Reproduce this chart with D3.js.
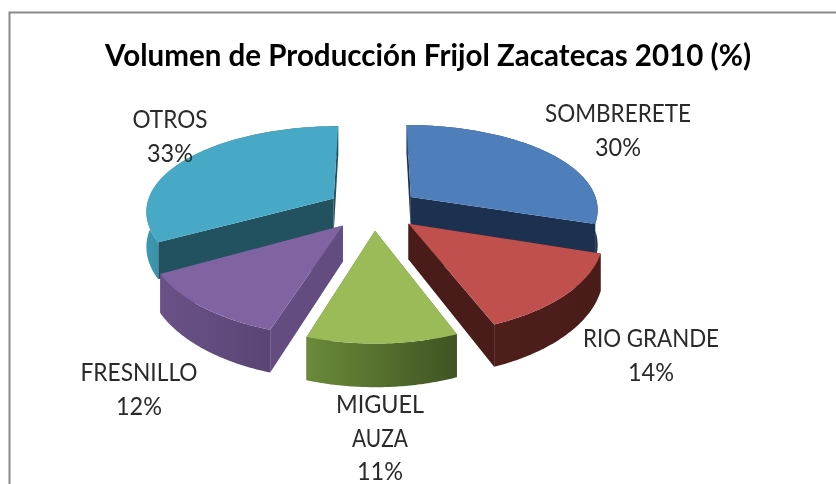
<!DOCTYPE html>
<html><head><meta charset="utf-8">
<script src="https://cdn.jsdelivr.net/npm/d3@7"></script>
<style>html,body{margin:0;padding:0;background:#fff}svg{display:block;filter:blur(0.5px)}text{font-family:Lato,"Open Sans",sans-serif;fill:#2a2a2a}</style>
</head><body><svg id="c" width="836" height="484"></svg>
<script>
const categories = ["SOMBRERETE","RIO GRANDE","MIGUEL AUZA","FRESNILLO","OTROS"];
const values = [30,14,11,12,33];
const topColors = ["#4F7FBB","#BF504D","#9ABB58","#8064A1","#47A9C5"];
const wallLight = ["#2A4A75","#4E1E1B","#6B8A3A","#6A5288","#3C97AF"];
const wallDark  = ["#1C3150","#4A1C19","#3F5422","#5A4474","#235664"];
const cutColors = ["#1C3150","#4A1C19","#5F7A33","#624C80","#225260"];
const labelLines = [["SOMBRERETE","30%"],["RIO GRANDE","14%"],["MIGUEL","AUZA","11%"],["FRESNILLO","12%"],["OTROS","33%"]];
const labelWidths = [[146,46],[136,46],[88,56,46],[117,46],[75,46]];
const labelPos = [[618,122],[651,347],[380,413],[139,381],[170,128]];
const drawOrder = [4,0,3,1,2];
const title = "Volumen de Producción Frijol Zacatecas 2010 (%)";

const svg = d3.select("#c");
const defs = svg.append("defs");
svg.append("path").attr("d","M9.5 484V12.5H836").attr("fill","none").attr("stroke","#8a8a8a").attr("stroke-width",2);
svg.append("text").attr("x",428).attr("y",66).attr("text-anchor","middle")
  .attr("font-size",31).attr("font-weight",700).style("fill","#000")
  .attr("textLength",646).attr("lengthAdjust","spacingAndGlyphs").text(title);

const cx=373.5, cy=209, Rx=188, K=87, P=0.16, Px=0.13, Ex=0.25, Ey=0.24, D=35;
const pie = d3.pie().sort(null).startAngle(0).endAngle(2*Math.PI)(values);
const line = d3.line();
function proj(X,Y,z){const s=1/(1+P*Y), sx=1/(1+Px*Y);return [cx+Rx*X*sx, cy-K*Y*s+z*D*s];}
pie.forEach((d,i)=>{d.mid=(d.startAngle+d.endAngle)/2;});
function pt(d,r,a,z){
  const X=Ex*Math.sin(d.mid)+r*Math.sin(a), Y=Ey*Math.cos(d.mid)+r*Math.cos(a);
  return proj(X,Y,z);
}
drawOrder.forEach(i=>{
  const d=pie[i], g=svg.append("g");
  const arc=d3.range(0,61).map(t=>d.startAngle+(d.endAngle-d.startAngle)*t/60);
  [d.startAngle,d.endAngle].forEach(a=>{
    g.append("path").attr("d",line([pt(d,0,0,0),pt(d,1,a,0),pt(d,1,a,1),pt(d,0,0,1)])+"Z").attr("fill",cutColors[i]);
  });
  const top=arc.map(a=>pt(d,1,a,0)), bot=arc.map(a=>pt(d,1,a,1)).reverse();
  const xs=top.map(p=>p[0]);
  const gid="w"+i;
  const lg=defs.append("linearGradient").attr("id",gid).attr("gradientUnits","userSpaceOnUse")
    .attr("x1",d3.min(xs)).attr("x2",d3.max(xs)).attr("y1",0).attr("y2",0);
  lg.append("stop").attr("offset",0).attr("stop-color",wallLight[i]);
  lg.append("stop").attr("offset",1).attr("stop-color",wallDark[i]);
  g.append("path").attr("d",line(top.concat(bot))+"Z").attr("fill",`url(#${gid})`);
  g.append("path").attr("d",line([pt(d,0,0,0)].concat(top))+"Z").attr("fill",topColors[i]);
});
labelLines.forEach((ls,i)=>{
  ls.forEach((s,j)=>svg.append("text").attr("text-anchor","middle").attr("font-size",25)
    .attr("x",labelPos[i][0]).attr("y",labelPos[i][1]+j*33.5)
    .attr("textLength",labelWidths[i][j]).attr("lengthAdjust","spacingAndGlyphs").text(s));
});
</script></body></html>
